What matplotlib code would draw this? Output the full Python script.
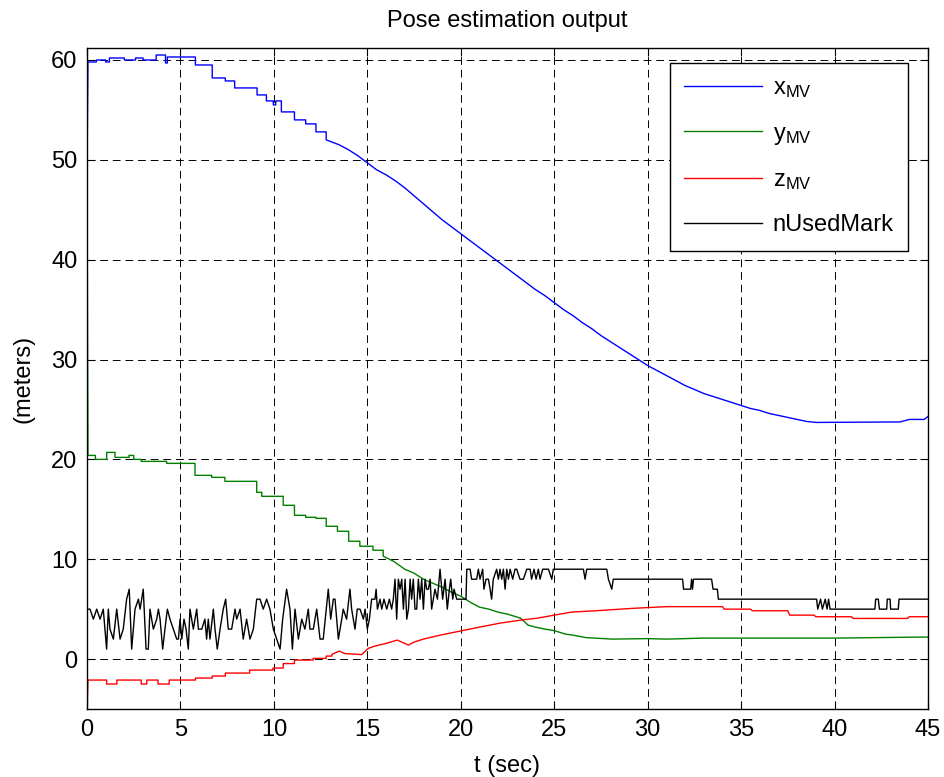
import matplotlib
matplotlib.use("Agg")
import matplotlib.pyplot as plt

plt.rcParams['font.family'] = ['Liberation Sans', 'DejaVu Sans']
plt.rcParams['mathtext.fontset'] = 'custom'
plt.rcParams['mathtext.rm'] = 'Liberation Sans'
plt.rcParams['mathtext.it'] = 'Liberation Sans'

# ---- data ----
x_t = [0, 0.05, 0.5, 0.5, 1.0, 1.0, 1.2, 1.2, 2.0, 2.0, 2.6, 2.6, 3.0, 3.0, 3.7, 3.7,
       4.2, 4.2, 4.3, 4.3, 5.8, 5.8, 6.7, 6.7, 7.4, 7.4, 7.9, 7.9, 9.1, 9.1, 9.6, 9.6,
       9.97, 9.97, 10.1, 10.1, 10.4, 10.4, 11.1, 11.1, 11.7, 11.7, 12.25, 12.25, 12.8,
       12.8, 13.5, 14.0, 14.5, 15.0, 15.5, 16.0, 16.5, 17.0, 17.5, 18.0, 18.5, 19.0, 19.5,
       20.0, 20.5, 21.0, 21.5, 22.0, 22.5, 23.0, 23.5, 24.0, 24.5, 25.0, 25.5, 26.0, 26.5,
       27.0, 27.5, 28.0, 28.5, 29.0, 29.5, 30.0, 30.5, 31.0, 31.5, 32.0, 32.5, 33.0, 33.5,
       34.0, 34.5, 35.0, 35.5, 36.0, 36.5, 37.0, 37.5, 38.0, 38.5, 39.0, 43.5, 44.0, 44.8,
       45.0]
x_v = [48.7, 59.8, 59.8, 60.0, 60.0, 59.8, 59.8, 60.2, 60.2, 60.0, 60.0, 60.2, 60.2, 60.0,
       60.0, 60.5, 60.5, 59.7, 59.7, 60.3, 60.3, 59.5, 59.5, 58.2, 58.2, 57.9, 57.9, 57.2,
       57.2, 56.5, 56.5, 55.9, 55.9, 55.5, 55.5, 55.9, 55.9, 54.8, 54.8, 54.0, 54.0, 53.6,
       53.6, 52.8, 52.8, 52.0, 51.5, 51.0, 50.4, 49.7, 49.0, 48.5, 47.9, 47.2, 46.4, 45.6,
       44.8, 44.0, 43.3, 42.6, 41.9, 41.2, 40.5, 39.8, 39.1, 38.4, 37.7, 37.0, 36.4, 35.7,
       35.0, 34.4, 33.7, 33.1, 32.4, 31.8, 31.2, 30.6, 30.0, 29.4, 28.9, 28.4, 27.9, 27.4,
       27.0, 26.6, 26.3, 26.0, 25.7, 25.4, 25.1, 24.9, 24.6, 24.4, 24.2, 24.0, 23.8, 23.7,
       23.75, 24.0, 24.0, 24.3]

y_t = [0, 0.05, 0.45, 0.45, 1.05, 1.05, 1.5, 1.5, 2.25, 2.25, 2.5, 2.5, 2.9, 2.9, 4.26,
       4.26, 5.78, 5.78, 6.67, 6.67, 7.38, 7.38, 9.08, 9.08, 9.35, 9.35, 10.5, 10.5, 11.1,
       11.1, 11.7, 11.7, 12.25, 12.25, 12.8, 12.8, 13.4, 13.4, 14.0, 14.0, 14.6, 14.6, 15.3,
       15.3, 15.85, 15.85, 16.4, 17.0, 17.5, 18.0, 18.5, 19.0, 19.5, 20.0, 20.5, 21.0, 21.5,
       22.0, 22.5, 23.2, 23.6, 24.0, 24.5, 25.0, 25.6, 26.0, 26.7, 28.1, 30.0, 31.0, 33.0,
       40.0, 44.5, 45.0]
y_v = [48.7, 20.4, 20.4, 20.0, 20.0, 20.7, 20.7, 20.2, 20.2, 20.4, 20.4, 20.0, 20.0, 19.8,
       19.8, 19.6, 19.6, 18.4, 18.4, 18.2, 18.2, 17.8, 17.8, 16.7, 16.7, 16.3, 16.3, 15.4,
       15.4, 14.4, 14.4, 14.2, 14.2, 14.1, 14.1, 13.3, 13.3, 12.8, 12.8, 11.8, 11.8, 11.3,
       11.3, 10.9, 10.9, 10.3, 9.8, 9.0, 8.6, 8.0, 7.6, 7.2, 6.7, 6.3, 5.7, 5.2, 5.0, 4.7,
       4.5, 4.1, 3.4, 3.2, 3.0, 2.85, 2.5, 2.4, 2.15, 2.0, 2.05, 2.0, 2.1, 2.1, 2.2, 2.2]

z_t = [0, 0.05, 1.05, 1.05, 1.6, 1.6, 2.9, 2.9, 3.2, 3.2, 3.8, 3.8, 4.4, 4.4, 5.8, 5.8,
       6.7, 6.7, 7.4, 7.4, 8.7, 8.7, 9.95, 9.95, 10.5, 10.5, 11.1, 11.1, 12.1, 12.1, 12.8,
       12.8, 13.1, 13.1, 13.5, 13.8, 14.7, 15.05, 15.4, 16.0, 16.6, 17.2, 17.5, 18.0, 18.9,
       19.8, 21.0, 22.1, 23.2, 24.1, 25.0, 25.9, 27.3, 29.2, 31.0, 34.0, 34.1, 35.5, 35.6,
       37.5, 37.6, 38.9, 39.0, 40.9, 41.0, 43.9, 44.0, 45.0]
z_v = [-6.0, -2.1, -2.1, -2.5, -2.5, -2.1, -2.1, -2.5, -2.5, -2.1, -2.1, -2.5, -2.5, -2.1,
       -2.1, -1.9, -1.9, -1.7, -1.7, -1.4, -1.4, -1.1, -1.1, -0.9, -0.9, -0.45, -0.45, -0.1,
       -0.1, 0.07, 0.07, 0.3, 0.3, 0.47, 0.8, 0.55, 0.45, 1.07, 1.3, 1.57, 1.9, 1.4, 1.7,
       2.0, 2.4, 2.74, 3.2, 3.6, 3.9, 4.1, 4.4, 4.7, 4.85, 5.08, 5.25, 5.25, 5.0, 5.0, 4.84,
       4.84, 4.4, 4.4, 4.24, 4.24, 4.07, 4.07, 4.24, 4.24]

n_t = [0.0, 0.16, 0.34, 0.52, 0.70, 0.87, 1.05, 1.14, 1.23, 1.41, 1.59, 1.77, 1.94, 2.12,
       2.26, 2.39, 2.57, 2.75, 2.84, 3.01, 3.16, 3.28, 3.37, 3.55, 3.73, 3.82, 3.91, 4.05,
       4.17, 4.30, 4.44, 4.62, 4.80, 4.89, 4.98, 5.07, 5.19, 5.30, 5.42, 5.51, 5.69, 5.87,
       5.96, 6.14, 6.31, 6.40, 6.49, 6.58, 6.76, 6.85, 6.97, 7.12, 7.29, 7.42, 7.56, 7.74,
       7.92, 8.01, 8.19, 8.36, 8.54, 8.72, 8.90, 9.08, 9.26, 9.43, 9.61, 9.79, 9.97, 10.15,
       10.33, 10.47, 10.68, 10.86, 10.99, 11.13, 11.31, 11.49, 11.66, 11.84, 11.93, 12.11,
       12.29, 12.47, 12.64, 12.91, 13.04, 13.18, 13.27, 13.45, 13.63, 13.71, 13.89, 14.07,
       14.16, 14.34, 14.46,
       14.61, 14.79, 14.88, 15.0, 15.11, 15.23, 15.41, 15.47, 15.54, 15.68, 15.77, 15.89,
       16.04, 16.18, 16.30, 16.39, 16.48, 16.57, 16.66, 16.75, 16.84, 16.93, 17.02, 17.11,
       17.20, 17.29, 17.37, 17.46, 17.55, 17.64, 17.73, 17.82, 17.91, 18.0, 18.09, 18.18,
       18.27, 18.36, 18.44, 18.53, 18.62, 18.75, 18.89, 19.03, 19.16, 19.28, 19.39, 19.46,
       19.57, 19.64, 19.78, 20.28, 20.32, 20.50, 20.58, 20.85, 20.94, 21.03, 21.17, 21.24,
       21.35, 21.48, 21.57, 21.65, 21.74, 21.92, 22.01, 22.10, 22.19, 22.28, 22.37, 22.46,
       22.55, 22.64, 22.78, 22.90, 22.99, 23.17, 23.35, 23.53, 23.71, 23.79, 23.92, 24.03,
       24.15, 24.24, 24.38, 24.51, 24.69, 24.87, 24.95,
       26.56, 26.65, 26.74, 27.81, 27.90, 28.08, 28.16, 31.87, 31.92, 32.30, 32.35, 32.40,
       32.45, 33.42, 33.50, 33.73, 33.78, 39.04, 39.10, 39.25, 39.35, 39.50, 39.60, 39.68,
       39.76, 42.16, 42.20, 42.34, 42.40, 42.79, 42.82, 42.97, 43.00, 43.41, 43.45, 45.0]
n_v = [5, 5, 4, 5, 4, 5, 1, 5, 3, 2, 5, 2, 3, 6,
       7, 1, 5, 6, 5, 7, 1, 1, 5, 3, 4, 5, 4, 1,
       3, 5, 4, 3, 2, 2, 4, 2, 4, 3, 1, 5, 3, 5,
       3, 3, 4, 2, 4, 2, 5, 3, 1, 3, 5, 6, 3, 3,
       5, 4, 5, 2, 4, 2, 3, 6, 6, 5, 6, 5, 3, 2,
       1, 4, 7, 5, 1, 5, 2, 4, 3, 5, 3, 3,
       5, 2, 2, 7, 4, 6, 6, 2, 4, 5, 4, 7,
       5, 3, 5,
       5, 4, 5, 3, 4, 6, 6, 7, 5, 6, 5, 6,
       5, 6, 5, 6, 8, 4, 8, 7, 8, 5, 8, 4,
       5, 8, 6, 8, 5, 5, 8, 6, 8, 5, 8, 7,
       7, 8, 5, 6, 7, 6, 9, 6, 8, 5, 7, 8,
       6, 7, 6, 6, 9, 9, 8, 8, 9, 8, 9, 7,
       8, 8, 7, 6, 8, 9, 8, 9, 8, 9, 7, 9,
       8, 9, 8, 9, 9, 8, 8, 9, 9, 8, 9, 8,
       9, 8, 9, 9, 9, 8, 9,
       9, 8, 9, 9, 8, 7, 8, 8, 7, 7, 8, 7,
       8, 8, 7, 7, 6, 6, 5, 6, 5, 6, 5, 6,
       5, 5, 6, 6, 5, 5, 6, 6, 5, 5, 6, 6]

labels = [r'x$_{\mathrm{MV}}$', r'y$_{\mathrm{MV}}$', r'z$_{\mathrm{MV}}$', 'nUsedMark']
x_ticks = [0, 5, 10, 15, 20, 25, 30, 35, 40, 45]
y_ticks = [0, 10, 20, 30, 40, 50, 60]

# ---- figure ----
fig = plt.figure(figsize=(9.44, 7.77), dpi=100)
ax = fig.add_axes([87/944, 68/777, 841/944, 661/777])

ax.plot(x_t, x_v, color='#0000ff', lw=1.0, label=labels[0])
ax.plot(y_t, y_v, color='#008000', lw=1.0, label=labels[1])
ax.plot(z_t, z_v, color='#ff0000', lw=1.0, label=labels[2])
ax.plot(n_t, n_v, color='#000000', lw=1.0, label=labels[3])

ax.set_xlim(0, 45)
ax.set_ylim(-5, 61.2)
ax.set_xticks(x_ticks)
ax.set_yticks(y_ticks)
ax.grid(True, color='k', linestyle=(0, (8, 5)), linewidth=0.7)
ax.tick_params(direction='in', top=True, right=True, length=6, width=0.8,
               labelsize=17, pad=7)
for s in ax.spines.values():
    s.set_linewidth(1.0)
    s.set_zorder(5)

ax.set_title('Pose estimation output', fontsize=17, pad=15)
ax.set_xlabel('t (sec)', fontsize=17, labelpad=10)
ax.set_ylabel('(meters)', fontsize=17, labelpad=12)

leg = ax.legend(loc='upper right', bbox_to_anchor=(0.976, 0.977), borderaxespad=0,
                fancybox=False, framealpha=1, edgecolor='k', fontsize=17,
                handlelength=3.3, labelspacing=0.95, borderpad=0.6, handletextpad=0.45)
leg.get_frame().set_linewidth(1.0)

fig.savefig('out.png', dpi=100)
